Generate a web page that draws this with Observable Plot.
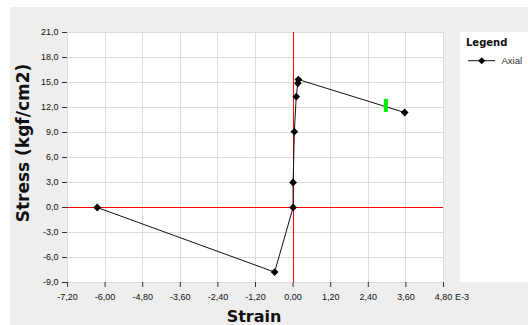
<!DOCTYPE html>
<html><head><meta charset="utf-8">
<script src="https://cdn.jsdelivr.net/npm/d3@7"></script>
<script src="https://cdn.jsdelivr.net/npm/@observablehq/plot@0.6"></script>
<style>
body{margin:0;background:#fff;}
#wrap{position:relative;width:528px;height:325px;overflow:hidden;font-family:"Liberation Sans",Arial,sans-serif;}
#bg{position:absolute;left:10px;top:7px;right:0;bottom:0;background:#eeeeee;}
#chart{position:absolute;left:0;top:0;}
#legend{position:absolute;left:460px;top:32px;width:68px;height:250px;background:#fff;}
#ylabel{position:absolute;left:23px;top:143px;transform:translate(-50%,-50%) rotate(-90deg);white-space:nowrap;font-family:"DejaVu Sans",sans-serif;font-weight:bold;font-size:17px;color:#111;}
#xlabel{position:absolute;left:254px;top:316px;transform:translate(-50%,-50%);white-space:nowrap;font-family:"DejaVu Sans",sans-serif;font-weight:bold;font-size:16px;color:#111;}
</style></head>
<body>
<div id="wrap">
  <div id="bg"></div>
  <div id="legend"></div>
  <div id="chart"></div>
  <div id="ylabel"></div>
  <div id="xlabel"></div>
</div>
<script>
// ---- data ----
const strain = [-6.25, -0.59, 0.0, 0.0, 0.04, 0.10, 0.15, 0.17, 3.56];
const stress = [0.0, -7.75, 0.0, 3.0, 9.1, 13.3, 14.9, 15.35, 11.4];
const markerStrain = [2.96];
const markerStress = [12.25];
const xTicks = [-7.2, -6.0, -4.8, -3.6, -2.4, -1.2, 0.0, 1.2, 2.4, 3.6, 4.8];
const yTicks = [-9, -6, -3, 0, 3, 6, 9, 12, 15, 18, 21];
const xUnit = "E-3";
const xLabel = "Strain";
const yLabel = "Stress (kgf/cm2)";
const legendTitle = "Legend";
const seriesName = "Axial";

const pts = strain.map((x, i) => ({x, y: stress[i]}));
const marker = markerStrain.map((x, i) => ({x, y: markerStress[i]}));

const loc = d3.formatLocale({decimal: ",", thousands: ".", grouping: [3], currency: ["", ""], minus: "-"});
const fx = loc.format(".2f");
const fy = loc.format(".1f");

const greenBar = {draw(ctx) { ctx.moveTo(-2, -6.5); ctx.lineTo(2, -6.5); ctx.lineTo(2, 6.5); ctx.lineTo(-2, 6.5); ctx.closePath(); }};

const chart = Plot.plot({
  width: 528, height: 325,
  marginLeft: 67, marginRight: 85, marginTop: 32, marginBottom: 43,
  style: {background: "transparent", fontFamily: "Liberation Sans, Arial, sans-serif", fontSize: "9px", color: "#111"},
  x: {domain: [-7.2, 4.8], label: null},
  y: {domain: [-9, 21], label: null},
  marks: [
    Plot.frame({fill: "white", stroke: "none"}),
    Plot.ruleX(xTicks, {stroke: "#dcdcdc", shapeRendering: "crispEdges"}),
    Plot.ruleY(yTicks, {stroke: "#dcdcdc", shapeRendering: "crispEdges"}),
    Plot.ruleX([0], {stroke: "#ff0000", shapeRendering: "crispEdges"}),
    Plot.ruleY([0], {stroke: "#ff0000", shapeRendering: "crispEdges"}),
    Plot.line(pts, {x: "x", y: "y", stroke: "#111", strokeWidth: 1}),
    Plot.dot(pts, {x: "x", y: "y", symbol: "diamond2", r: 3.5, fill: "#000", stroke: "none"}),
    Plot.dot(marker, {x: "x", y: "y", symbol: greenBar, fill: "#00ee00", stroke: "none"}),
    Plot.axisX({ticks: xTicks, tickFormat: fx, tickSize: 5, tickPadding: 6, stroke: "#333", fill: "#111", fontSize: 9, label: null}),
    Plot.axisY({ticks: yTicks, tickFormat: fy, tickSize: 5, tickPadding: 4, stroke: "#333", fill: "#111", fontSize: 9, label: null}),
    Plot.text([xTicks[xTicks.length - 1]], {x: d => d, frameAnchor: "bottom", lineAnchor: "top", dy: 11, dx: 11.5, textAnchor: "start", fontSize: 9, text: () => xUnit, fill: "#111"})
  ]
});
document.getElementById("chart").appendChild(chart);
document.getElementById("ylabel").textContent = yLabel;
document.getElementById("xlabel").textContent = xLabel;

// legend
const ns = "http://www.w3.org/2000/svg";
const lg = document.createElementNS(ns, "svg");
lg.setAttribute("width", 68); lg.setAttribute("height", 60);
lg.innerHTML = `
  <text x="6" y="14.3" font-family="DejaVu Sans, sans-serif" font-weight="bold" font-size="10" fill="#111"></text>
  <line x1="8" x2="35" y1="28.7" y2="28.7" stroke="#111" stroke-width="1"/>
  <path d="M21.7,25.2L25.2,28.7L21.7,32.2L18.2,28.7Z" fill="#000"/>
  <text x="41.5" y="31.6" font-family="Liberation Sans, Arial, sans-serif" font-size="9.5" fill="#333"></text>`;
const texts = lg.querySelectorAll("text");
texts[0].textContent = legendTitle;
texts[1].textContent = seriesName;
document.getElementById("legend").appendChild(lg);
</script>
</body></html>
